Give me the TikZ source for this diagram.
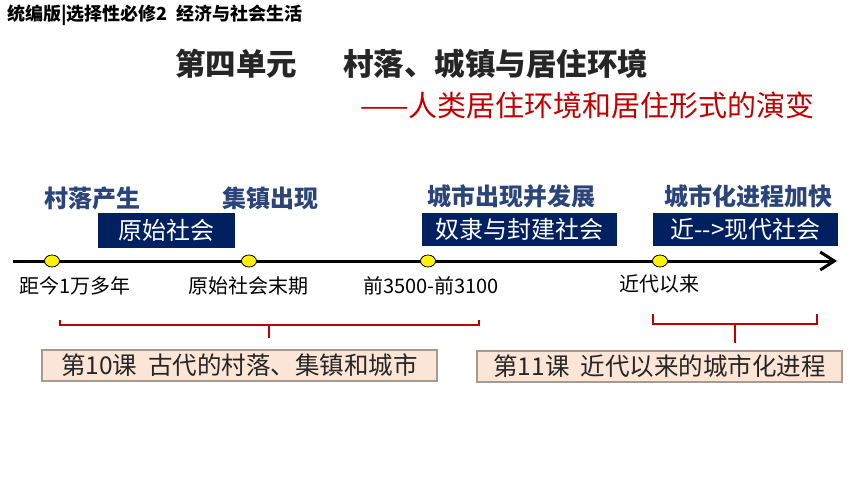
\documentclass[tikz,border=0pt]{standalone}
\usepackage{fontspec}
\setmainfont{Noto Sans CJK SC}
\usepackage{xcolor}
\usetikzlibrary{arrows.meta,positioning,shapes.geometric}
\definecolor{navybox}{HTML}{002060}
\definecolor{eventblue}{HTML}{2B4479}
\definecolor{titlegray}{HTML}{262626}
\definecolor{darkred}{HTML}{C00000}
\definecolor{lessonfill}{HTML}{FBE5D6}
\definecolor{lessonedge}{HTML}{A89A8E}
\newcommand{\fsz}[1]{\fontsize{#1}{#1}\selectfont}

\begin{document}
\begin{tikzpicture}[x=1pt, y=-1pt,
    era/.style={fill=navybox, text=white, inner sep=0pt, font=\fsz{24}},
    event/.style={text=eventblue, font=\bfseries\fsz{24}, inner sep=0pt},
    datelab/.style={text=black, font=\fsz{20}, inner sep=0pt},
    dot/.style={ellipse, draw=black, line width=0.8pt, fill=yellow, minimum width=15pt, minimum height=12pt, inner sep=0pt},
    lesson/.style={draw=lessonedge, line width=1.5pt, fill=lessonfill, text=titlegray, inner sep=0pt, font=\fsz{24.5}},
    bracket/.style={draw=darkred, line width=1.8pt}]
  \useasboundingbox (0,0) rectangle (860,484);
  % headings
  \node[anchor=west, inner sep=0pt, font=\bfseries\fsz{18}] (header) at (7,15) {统编版|选择性必修2\ \ 经济与社会生活};
  \node[anchor=west, inner sep=0pt, text=titlegray, font=\bfseries\fsz{30.5}] (unit) at (175,64) {第四单元};
  \node[anchor=west, inner sep=0pt, text=titlegray, font=\bfseries\fsz{30.5}] (title) at (343,64) {村落、城镇与居住环境};
  \node[anchor=west, inner sep=0pt, text=darkred, font=\fsz{29}] (subtitle) at (360,105) {——人类居住环境和居住形式的演变};
  % time line
  \coordinate (tstart) at (13,261);
  \coordinate (tend) at (837,261);
  \draw[line width=3pt, -{Straight Barb[length=14pt, width=18pt]}] (tstart) -- (tend);
  \node[dot] (d1) at (52,261) {};
  \node[dot] (d2) at (249,261) {};
  \node[dot] (d3) at (428,261) {};
  \node[dot] (d4) at (660,261) {};
  \node[datelab] (t1) at (75,286) {距今1万多年};
  \node[datelab] (t2) at (248,286) {原始社会末期};
  \node[datelab] (t3) at (431,286) {前3500-前3100};
  \node[datelab] (t4) at (659,284) {近代以来};
  % events and eras
  \node[event] (e1) at (93,198) {村落产生};
  \node[event] (e2) at (270,198) {集镇出现};
  \node[event] (e3) at (511,196) {城市出现并发展};
  \node[event] (e4) at (748,196) {城市化进程加快};
  \node[era, minimum width=137pt, minimum height=35pt] (a1) at (166.5,230.5) {原始社会};
  \node[era, minimum width=195pt, minimum height=33pt] (a2) at (519.5,229.5) {奴隶与封建社会};
  \node[era, minimum width=185pt, minimum height=33pt] (a3) at (745.5,229.5) {近-{}-{}>现代社会};
  % brackets
  \coordinate (b1l) at (60,320);
  \coordinate (b1r) at (479,320);
  \coordinate (b1m) at (269,325);
  \coordinate (b1s) at (269,338);
  \draw[bracket] (b1l) |- (b1m) -| (b1r);
  \draw[bracket] (b1m) -- (b1s);
  \coordinate (b2l) at (653,314);
  \coordinate (b2r) at (817,314);
  \coordinate (b2m) at (735,324);
  \coordinate (b2s) at (735,343);
  \draw[bracket] (b2l) |- (b2m) -| (b2r);
  \draw[bracket] (b2m) -- (b2s);
  % lessons
  \node[lesson, minimum width=395pt, minimum height=31pt] (l1) at (239.5,365.5) {第10课\ \ 古代的村落、集镇和城市};
  \node[lesson, minimum width=365pt, minimum height=31pt] (l2) at (659.5,366.5) {第11课\ \ 近代以来的城市化进程};
\end{tikzpicture}
\end{document}
